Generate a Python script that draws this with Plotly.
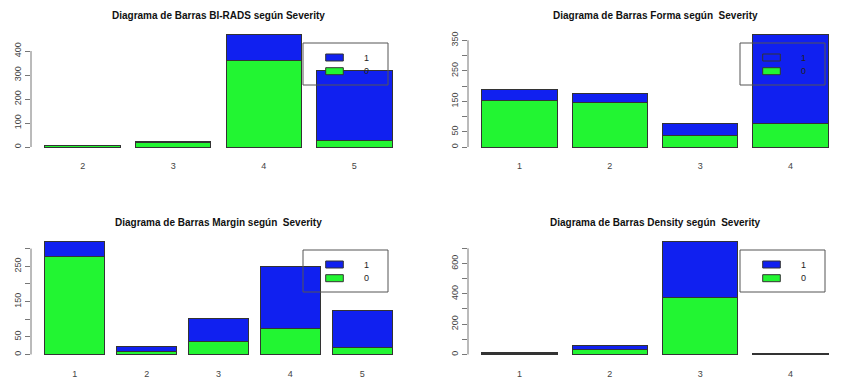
import plotly.graph_objects as go

# ---------------- data ----------------
birads_cats = ["2", "3", "4", "5"]
birads_sev0 = [7, 20, 361, 29]
birads_sev1 = [0, 3, 108, 288]
birads_ticks = [0, 100, 200, 300, 400]
birads_ticklabels = ["0", "100", "200", "300", "400"]

forma_cats = ["1", "2", "3", "4"]
forma_sev0 = [154, 147, 39, 77]
forma_sev1 = [35, 29, 39, 292]
forma_ticks = [0, 50, 100, 150, 200, 250, 300, 350]
forma_ticklabels = ["0", "50", "", "150", "", "250", "", "350"]

margin_cats = ["1", "2", "3", "4", "5"]
margin_sev0 = [278, 8, 38, 75, 19]
margin_sev1 = [42, 15, 63, 174, 107]
margin_ticks = [0, 50, 100, 150, 200, 250, 300]
margin_ticklabels = ["0", "50", "", "150", "", "250", ""]

density_cats = ["1", "2", "3", "4"]
density_sev0 = [5, 35, 374, 4]
density_sev1 = [6, 22, 371, 2]
density_ticks = [0, 100, 200, 300, 400, 500, 600, 700]
density_ticklabels = ["0", "", "200", "", "400", "", "600", ""]

titles = [
    "Diagrama de Barras BI-RADS según Severity",
    "Diagrama de Barras Forma según  Severity",
    "Diagrama de Barras Margin según  Severity",
    "Diagrama de Barras Density según  Severity",
]
legend_labels = ["1", "0"]

# ---------------- style ----------------
W, H = 849, 385
BLUE = "#1020f0"
GREEN = "#22f532"
EDGE = "#333333"
AXIS = "#777777"
TXT = "#444444"
FONT = "Liberation Sans, Arial, sans-serif"

# plot regions in pixels: (left, right, top, bottom)
regions = [
    (31, 406, 30, 151.5),
    (468, 842, 30, 151.5),
    (31, 406, 237, 359),
    (468, 842, 237, 359),
]

panels = [
    (birads_cats, birads_sev0, birads_sev1, birads_ticks, birads_ticklabels),
    (forma_cats, forma_sev0, forma_sev1, forma_ticks, forma_ticklabels),
    (margin_cats, margin_sev0, margin_sev1, margin_ticks, margin_ticklabels),
    (density_cats, density_sev0, density_sev1, density_ticks, density_ticklabels),
]


def px(x):
    return x / W


def py(y):
    return 1 - y / H


fig = go.Figure()
shapes = []
annotations = []
bar_w = 1 / 1.2

for i, (cats, s0, s1, ticks, tlabels) in enumerate(panels):
    n = i + 1
    xa = "x" if n == 1 else f"x{n}"
    ya = "y" if n == 1 else f"y{n}"
    left, right, top, bottom = regions[i]

    fig.add_trace(go.Bar(x=cats, y=s0, name="0", marker=dict(color=GREEN, line=dict(color=EDGE, width=1)),
                         xaxis=xa, yaxis=ya, showlegend=False))
    fig.add_trace(go.Bar(x=cats, y=s1, name="1", marker=dict(color=BLUE, line=dict(color=EDGE, width=1)),
                         xaxis=xa, yaxis=ya, showlegend=False))

    totals = [a + b for a, b in zip(s0, s1)]
    ymax = max(totals)
    k = len(cats)
    ext = 0.04 * (k - 1 / 6)
    xr = [-bar_w / 2 - ext, k - 1 + bar_w / 2 + ext]

    xkey = "xaxis" if n == 1 else f"xaxis{n}"
    ykey = "yaxis" if n == 1 else f"yaxis{n}"
    fig.layout[xkey] = dict(
        domain=[px(left), px(right)], anchor=ya, type="category", range=xr,
        showline=False, showgrid=False, zeroline=False,
        ticks="outside", ticklen=6, tickcolor="rgba(0,0,0,0)",
        tickfont=dict(family=FONT, size=9, color=TXT), fixedrange=True,
    )
    fig.layout[ykey] = dict(
        domain=[py(bottom), py(top)], anchor=xa, range=[-0.04 * ymax, 1.04 * ymax],
        showline=False, showgrid=False, zeroline=False,
        tickmode="array", tickvals=ticks, ticktext=tlabels, tickangle=-90,
        ticks="outside", ticklen=5, tickcolor=AXIS, tickwidth=1,
        tickfont=dict(family=FONT, size=9, color=TXT), fixedrange=True,
    )
    # axis line from first to last tick (R style)
    shapes.append(dict(type="line", xref=f"{xa} domain", yref=ya, x0=0, x1=0,
                       y0=ticks[0], y1=ticks[-1], line=dict(color=AXIS, width=1)))

    # title
    annotations.append(dict(text=f"<b>{titles[i]}</b>", xref="paper", yref="paper",
                            x=px((left + right) / 2), y=py(top - 15), xanchor="center", yanchor="middle",
                            showarrow=False, font=dict(family=FONT, size=10, color="#111111")))

    # legend box (drawn like R legend)
    shapes.append(dict(type="rect", xref="paper", yref="paper",
                       x0=px(left + 272), x1=px(left + 357), y0=py(top + 55), y1=py(top + 13),
                       line=dict(color="#555555", width=1), fillcolor="rgba(0,0,0,0)"))
    for j, (lab, col) in enumerate(zip(legend_labels, [BLUE, GREEN])):
        ky = top + 24 + j * 13.7
        shapes.append(dict(type="rect", xref="paper", yref="paper",
                           x0=px(left + 294.7), x1=px(left + 312.3), y0=py(ky + 7), y1=py(ky),
                           line=dict(color=EDGE, width=1), fillcolor=col))
        annotations.append(dict(text=lab, xref="paper", yref="paper",
                                x=px(left + 335.7), y=py(ky + 3.5), xanchor="center", yanchor="middle",
                                showarrow=False, font=dict(family=FONT, size=9, color="#222222")))

fig.update_layout(
    width=W, height=H, margin=dict(l=0, r=0, t=0, b=0),
    barmode="stack", bargap=1 - bar_w,
    paper_bgcolor="white", plot_bgcolor="white",
    shapes=shapes, annotations=annotations, showlegend=False,
)

fig.write_html(
    "out.html",
    config={"displayModeBar": False},
    post_script="document.body.style.margin='0';document.body.style.overflow='hidden';",
)
